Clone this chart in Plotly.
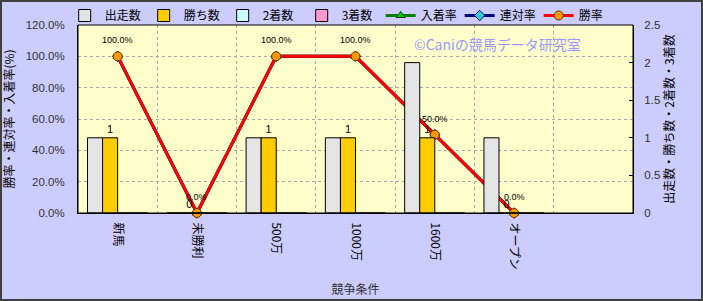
import plotly.graph_objects as go

categories = ["新馬", "未勝利", "500万", "1000万", "1600万", "オープン", " "]
starts = [1, 0, 1, 1, 2, 1, None]
wins = [1, 0, 1, 1, 1, 0, None]
seconds = [0, 0, 0, 0, 0, 0, None]
thirds = [0, 0, 0, 0, 0, 0, None]
place_rate = [100, 0, 100, 100, 50, 0, None]
rentai_rate = [100, 0, 100, 100, 50, 0, None]
win_rate = [100, 0, 100, 100, 50, 0, None]
win_labels = ["1", "0", "1", "1", "1", "0", ""]
rate_labels = ["100.0%", "0.0%", "100.0%", "100.0%", "50.0%", "0.0%", ""]

JP = "Noto Sans CJK JP"
fig = go.Figure()

fig.add_trace(go.Bar(x=categories, y=starts, name="出走数", yaxis="y2",
                     marker=dict(color="#E4E4E4", line=dict(color="#000000", width=1))))
fig.add_trace(go.Bar(x=categories, y=wins, name="勝ち数", yaxis="y2",
                     marker=dict(color="#FFCC00", line=dict(color="#000000", width=1)),
                     text=win_labels, textposition="outside", cliponaxis=False,
                     textfont=dict(size=11, color="#000000", family="Liberation Sans")))
fig.add_trace(go.Bar(x=categories, y=seconds, name="2着数", yaxis="y2",
                     marker=dict(color="#CCFFFF", line=dict(color="#000000", width=1))))
fig.add_trace(go.Bar(x=categories, y=thirds, name="3着数", yaxis="y2",
                     marker=dict(color="#FF99CC", line=dict(color="#000000", width=1))))

fig.add_trace(go.Scatter(x=categories, y=place_rate, name="入着率", mode="lines+markers",
                         line=dict(color="#008000", width=3),
                         marker=dict(symbol="triangle-up", size=8, color="#00CC00",
                                     line=dict(color="#004000", width=1)), cliponaxis=False))
fig.add_trace(go.Scatter(x=categories, y=rentai_rate, name="連対率", mode="lines+markers",
                         line=dict(color="#000080", width=3),
                         marker=dict(symbol="diamond", size=8, color="#33CCCC",
                                     line=dict(color="#000080", width=1)), cliponaxis=False))
fig.add_trace(go.Scatter(x=categories, y=win_rate, name="勝率", mode="lines+markers",
                         line=dict(color="#FF0000", width=3),
                         marker=dict(symbol="circle", size=9, color="#FF9900",
                                     line=dict(color="#663300", width=1)), cliponaxis=False))

for c, v, t in zip(categories, win_rate, rate_labels):
    if v is None:
        continue
    fig.add_annotation(x=c, y=v, text=t, showarrow=False, yshift=16,
                       font=dict(size=9, color="#000000", family="Liberation Sans"))

W, H = 703, 301
ml, mr, mt, mb = 78, 70, 25, 88
pw, ph = W - ml - mr, H - mt - mb

fig.update_layout(
    width=W, height=H,
    margin=dict(l=ml, r=mr, t=mt, b=mb, autoexpand=False),
    paper_bgcolor="#CCCCFF",
    plot_bgcolor="#FFFFCC",
    barmode="group", bargap=0.24, bargroupgap=0,
    font=dict(family=JP, size=11, color="#000000"),
    showlegend=True,
    legend=dict(orientation="h", x=-0.024, xanchor="left", y=1 + 24 / ph, yanchor="top",
                bgcolor="rgba(0,0,0,0)", font=dict(size=12, family=JP),
                itemwidth=30, traceorder="normal", entrywidth=34, entrywidthmode="pixels"),
    xaxis=dict(
        type="category", categoryorder="array", categoryarray=categories,
        range=[-0.5, 6.5], tickson="boundaries", showgrid=True, automargin=False,
        gridcolor="#A8A8A8", griddash="dot", gridwidth=1,
        tickangle=90, tickfont=dict(size=12, family=JP), ticklabelstandoff=6,
        showline=True, linecolor="#000000", linewidth=1, ticks="",
        title=dict(text="競争条件", font=dict(size=12, color="#333333"), standoff=16),
    ),
    yaxis=dict(
        range=[0, 120], dtick=20, tickformat=".1f", ticksuffix="%", automargin=False,
        showgrid=True, gridcolor="#A8A8A8", griddash="dot", gridwidth=1,
        zeroline=False, showline=True, linecolor="#000000", linewidth=1,
        ticks="", ticklabelstandoff=10,
        tickfont=dict(size=11.5, color="#333333", family="Liberation Sans"),
        title=dict(text="勝率・連対率・入着率(%)", font=dict(size=12, family=JP), standoff=10),
    ),
    yaxis2=dict(
        range=[0, 2.5], dtick=0.5, overlaying="y", side="right", automargin=False,
        showgrid=False, zeroline=False, showline=True, linecolor="#000000", linewidth=1,
        ticks="inside", ticklen=4, tickcolor="#000000", ticklabelstandoff=8,
        tickfont=dict(size=11.5, color="#333333", family="Liberation Sans"),
        title=dict(text="出走数・勝ち数・2着数・3着数", font=dict(size=12, family=JP), standoff=4),
    ),
)

fig.add_annotation(text="©Caniの競馬データ研究室", xref="paper", yref="paper",
                   x=(497 - ml) / pw, y=1 - (44 - mt) / ph, xanchor="center", yanchor="middle",
                   showarrow=False, font=dict(size=14, color="#9999FF", family=JP))

# plot-area border
fig.add_shape(type="rect", xref="paper", yref="paper", x0=0, x1=1, y0=0, y1=1,
              line=dict(color="#000000", width=1), layer="above")
# figure border
fig.add_shape(type="rect", xref="paper", yref="paper",
              x0=-(ml - 1) / pw, x1=1 + (mr - 1) / pw,
              y0=-(mb - 1) / ph, y1=1 + (mt - 1) / ph,
              line=dict(color="#404040", width=2), layer="above")

fig.write_html("out.html")
